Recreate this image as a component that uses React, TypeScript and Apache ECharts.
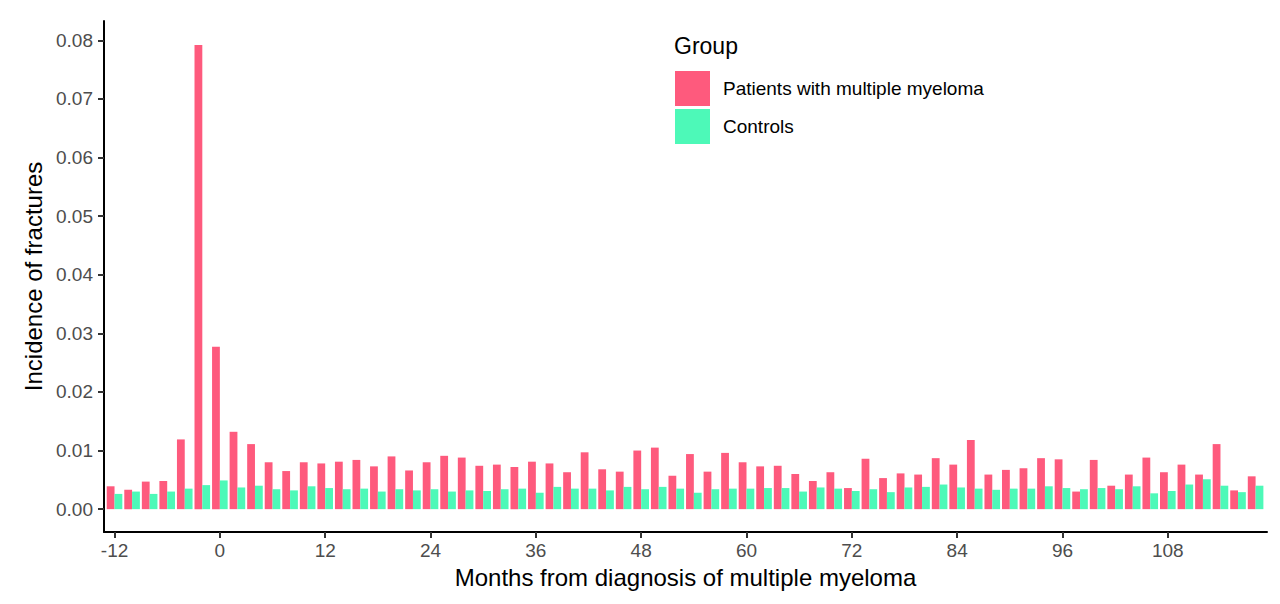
import React, { useEffect, useRef } from 'react'
import * as echarts from 'echarts'

const months = [
  -12, -10, -8, -6, -4, -2, 0, 2, 4, 6, 8, 10, 12, 14, 16, 18, 20, 22, 24, 26, 28, 30,
  32, 34, 36, 38, 40, 42, 44, 46, 48, 50, 52, 54, 56, 58, 60, 62, 64, 66, 68, 70,
  72, 74, 76, 78, 80, 82, 84, 86, 88, 90, 92, 94, 96, 98, 100, 102, 104, 106, 108, 110,
  112, 114, 116, 118,
]

const patients = [
  0.0039, 0.0033, 0.0047, 0.0048, 0.0119, 0.0792, 0.0277, 0.0132, 0.0111, 0.008, 0.0065,
  0.008, 0.0078, 0.0081, 0.0084, 0.0073, 0.009, 0.0066, 0.008, 0.0091, 0.0088, 0.0074,
  0.0076, 0.0072, 0.0081, 0.0078, 0.0063, 0.0097, 0.0068, 0.0064, 0.01, 0.0105, 0.0057,
  0.0094, 0.0064, 0.0096, 0.008, 0.0073, 0.0074, 0.006, 0.0048, 0.0063, 0.0036, 0.0086,
  0.0053, 0.0061, 0.0059, 0.0087, 0.0076, 0.0118, 0.0059, 0.0067, 0.007, 0.0087, 0.0085,
  0.003, 0.0084, 0.004, 0.0059, 0.0088, 0.0063, 0.0076, 0.0059, 0.0111, 0.0032, 0.0056,
]

const controls = [
  0.0026, 0.003, 0.0026, 0.003, 0.0035, 0.0041, 0.0049, 0.0037, 0.004, 0.0034, 0.0032,
  0.0039, 0.0036, 0.0034, 0.0035, 0.003, 0.0034, 0.0032, 0.0034, 0.003, 0.0032, 0.0031,
  0.0034, 0.0035, 0.0028, 0.0038, 0.0035, 0.0035, 0.0032, 0.0038, 0.0034, 0.0038, 0.0035,
  0.0028, 0.0034, 0.0035, 0.0035, 0.0036, 0.0036, 0.003, 0.0037, 0.0035, 0.0031, 0.0034,
  0.0029, 0.0037, 0.0038, 0.0042, 0.0037, 0.0035, 0.0033, 0.0035, 0.0035, 0.0039, 0.0036,
  0.0034, 0.0036, 0.0034, 0.0039, 0.0027, 0.0031, 0.0042, 0.0051, 0.004, 0.0029, 0.004,
]

const xTicks = [-12, 0, 12, 24, 36, 48, 60, 72, 84, 96, 108]
const yTicks = [0, 0.01, 0.02, 0.03, 0.04, 0.05, 0.06, 0.07, 0.08]

const FONT = 'Liberation Sans, Arial, sans-serif'

export default function App() {
  const chartRef = useRef<HTMLDivElement>(null)

  useEffect(() => {
    const chart = echarts.init(chartRef.current, null, { renderer: 'svg' })
    chart.setOption({
      animation: false,
      textStyle: { fontFamily: FONT },
      grid: { left: 104, right: 13, top: 21, bottom: 72 },
      title: {
        text: 'Group',
        left: 669,
        top: 29,
        textStyle: { fontFamily: FONT, fontSize: 23, fontWeight: 'normal', color: '#000' },
      },
      legend: {
        orient: 'vertical',
        left: 670,
        top: 66,
        itemWidth: 35,
        itemHeight: 35,
        itemGap: 3,
        icon: 'rect',
        textStyle: { fontFamily: FONT, fontSize: 19, color: '#000', padding: [0, 0, 0, 8] },
        data: ['Patients with multiple myeloma', 'Controls'],
      },
      xAxis: {
        type: 'value',
        min: -13.2,
        max: 119.3,
        name: 'Months from diagnosis of multiple myeloma',
        nameLocation: 'middle',
        nameGap: 33,
        nameTextStyle: { fontFamily: FONT, fontSize: 24, color: '#000' },
        axisLine: { onZero: false, lineStyle: { color: '#000', width: 2 } },
        axisTick: { customValues: xTicks, length: 6, lineStyle: { color: '#333', width: 2 } },
        axisLabel: {
          customValues: xTicks,
          margin: 9,
          fontSize: 19,
          color: '#4d4d4d',
          fontFamily: FONT,
        },
        splitLine: { show: false },
      },
      yAxis: {
        type: 'value',
        min: -0.0039,
        max: 0.0833,
        name: 'Incidence of fractures',
        nameLocation: 'middle',
        nameGap: 56,
        nameTextStyle: { fontFamily: FONT, fontSize: 24, color: '#000' },
        axisLine: { show: true, onZero: false, lineStyle: { color: '#000', width: 2 } },
        axisTick: { show: true, customValues: yTicks, length: 6, lineStyle: { color: '#333', width: 2 } },
        axisLabel: {
          customValues: yTicks,
          margin: 11,
          fontSize: 19,
          color: '#4d4d4d',
          fontFamily: FONT,
          formatter: (v: number) => v.toFixed(2),
        },
        splitLine: { show: false },
      },
      series: [
        {
          name: 'Patients with multiple myeloma',
          type: 'bar',
          barWidth: 7.8,
          barGap: '0%',
          itemStyle: { color: '#FE5A7D' },
          data: months.map((m, i) => [m, patients[i]]),
        },
        {
          name: 'Controls',
          type: 'bar',
          barWidth: 7.8,
          barGap: '0%',
          itemStyle: { color: '#4DF9B8' },
          data: months.map((m, i) => [m, controls[i]]),
        },
      ],
    })
    return () => chart.dispose()
  }, [])

  return (
    <div
      ref={chartRef}
      style={{ position: 'fixed', left: 0, top: 0, width: 1280, height: 604, background: '#fff' }}
    />
  )
}
